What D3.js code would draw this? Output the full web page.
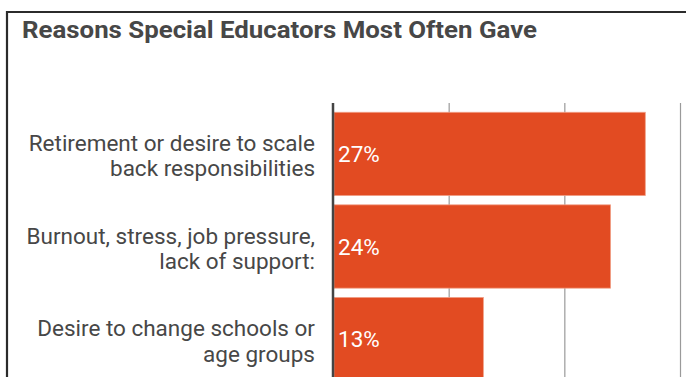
<!DOCTYPE html>
<html>
<head>
<meta charset="utf-8">
<script src="https://cdn.jsdelivr.net/npm/d3@7"></script>
<style>
  html, body { margin: 0; padding: 0; background: #fff; }
  svg { display: block; }
</style>
</head>
<body>
<script>
const title = "Reasons Special Educators Most Often Gave";
const categories = [
  ["Retirement or desire to scale", "back responsibilities"],
  ["Burnout, stress, job pressure,", "lack of support:"],
  ["Desire to change schools or", "age groups"]
];
const values = [27, 24, 13];
const valueLabels = ["27%", "24%", "13%"];
const xTicks = [10, 20, 30];

const W = 686, H = 377;
const svg = d3.select("body").append("svg").attr("width", W).attr("height", H);

// frame
svg.append("path")
  .attr("d", `M7,${H + 5} L7,12 L${W + 5},12`)
  .attr("fill", "none").attr("stroke", "#2b2b2b").attr("stroke-width", 2.2);

svg.append("text")
  .attr("x", 22).attr("y", 37.5)
  .attr("font-family", "Roboto").attr("font-weight", 700).attr("font-size", 23)
  .attr("textLength", 515).attr("lengthAdjust", "spacingAndGlyphs")
  .attr("fill", "#474747").text(title);

const ids = categories.map((c, i) => i);
const x = d3.scaleLinear().domain([0, 30]).range([333, 680]);
const y = d3.scaleBand().domain(ids).range([103, 390]).padding(0.1);

// gridlines
const grid = svg.append("g")
  .attr("transform", `translate(0,103)`)
  .call(d3.axisBottom(x).tickValues(xTicks).tickSize(H).tickFormat(""));
grid.select(".domain").remove();
grid.selectAll(".tick line").attr("stroke", "#9a9a9a").attr("stroke-width", 1.2);

// bars
svg.append("g").selectAll("rect").data(values).join("rect")
  .attr("x", x(0) + 1)
  .attr("y", (d, i) => y(i))
  .attr("width", d => x(d) - x(0) - 1)
  .attr("height", y.bandwidth())
  .attr("fill", "#E24B22")
  .attr("stroke", "#f1a088").attr("stroke-width", 0.8);

// axis line
svg.append("line")
  .attr("x1", x(0)).attr("x2", x(0)).attr("y1", 103).attr("y2", H + 5)
  .attr("stroke", "#444").attr("stroke-width", 2.5);

// value labels
svg.append("g").selectAll("text").data(valueLabels).join("text")
  .attr("x", x(0) + 5)
  .attr("y", (d, i) => y(i) + y.bandwidth() / 2)
  .attr("dy", "0.36em")
  .attr("font-family", "Roboto").attr("font-size", 22.5)
  .attr("fill", "#fff").text(d => d);

// category labels
const cat = svg.append("g").selectAll("text").data(categories).join("text")
  .attr("x", 315)
  .attr("y", (d, i) => y(i) + y.bandwidth() / 2)
  .attr("text-anchor", "end")
  .attr("font-family", "Roboto").attr("font-size", 22.5)
  .attr("fill", "#474747");
cat.selectAll("tspan").data(d => d).join("tspan")
  .attr("x", 315)
  .attr("dy", (d, j) => j === 0 ? "-0.12em" : "1.12em")
  .text(d => d);
</script>
</body>
</html>
